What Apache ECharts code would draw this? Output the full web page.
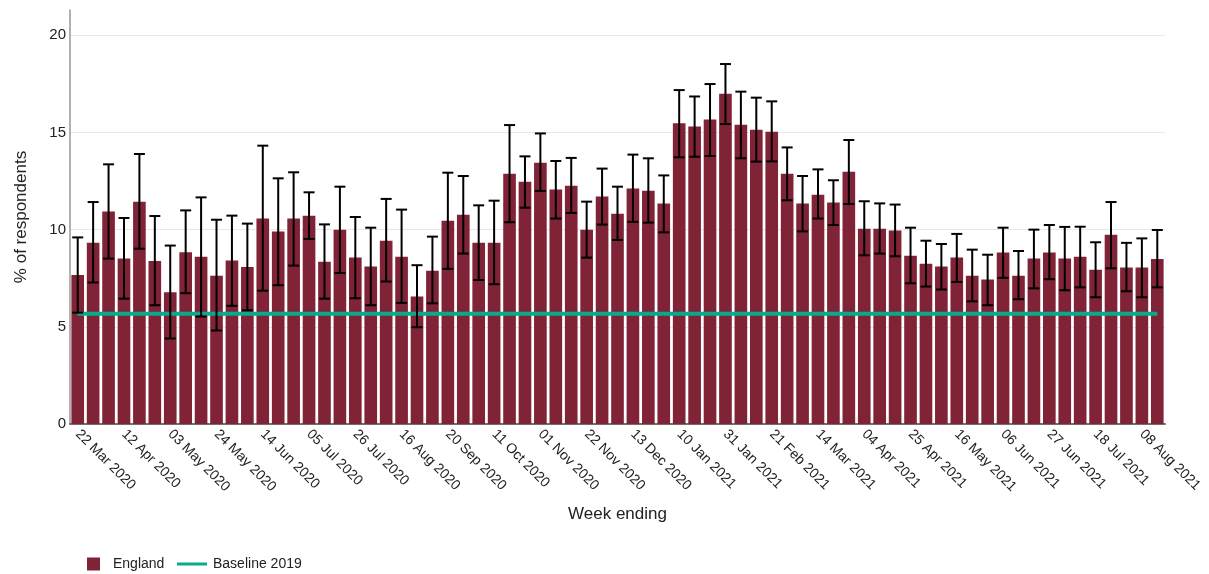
<!DOCTYPE html>
<html>
<head>
<meta charset="utf-8">
<script src="https://cdn.jsdelivr.net/npm/echarts@6/dist/echarts.min.js"></script>
<style>html,body{margin:0;padding:0;background:#fff;}#c{width:1209px;height:574px;}</style>
</head>
<body>
<div id="c"></div>
<script>
const categories = [
  '22 Mar 2020','29 Mar 2020','05 Apr 2020','12 Apr 2020','19 Apr 2020','26 Apr 2020','03 May 2020','10 May 2020','17 May 2020','24 May 2020',
  '31 May 2020','07 Jun 2020','14 Jun 2020','21 Jun 2020','28 Jun 2020','05 Jul 2020','12 Jul 2020','19 Jul 2020','26 Jul 2020','02 Aug 2020',
  '09 Aug 2020','16 Aug 2020','30 Aug 2020','13 Sep 2020','20 Sep 2020','27 Sep 2020','04 Oct 2020','11 Oct 2020','18 Oct 2020','25 Oct 2020',
  '01 Nov 2020','08 Nov 2020','15 Nov 2020','22 Nov 2020','29 Nov 2020','06 Dec 2020','13 Dec 2020','20 Dec 2020','03 Jan 2021','10 Jan 2021',
  '17 Jan 2021','24 Jan 2021','31 Jan 2021','07 Feb 2021','14 Feb 2021','21 Feb 2021','28 Feb 2021','07 Mar 2021','14 Mar 2021','21 Mar 2021',
  '28 Mar 2021','04 Apr 2021','11 Apr 2021','18 Apr 2021','25 Apr 2021','02 May 2021','09 May 2021','16 May 2021','23 May 2021','30 May 2021',
  '06 Jun 2021','13 Jun 2021','20 Jun 2021','27 Jun 2021','04 Jul 2021','11 Jul 2021','18 Jul 2021','25 Jul 2021','01 Aug 2021','08 Aug 2021',
  '15 Aug 2021'
];
const england = [
  7.67,9.33,10.93,8.51,11.44,8.39,6.78,8.83,8.61,7.63,
  8.41,8.08,10.57,9.90,10.57,10.72,8.35,10.0,8.56,8.10,
  9.43,8.61,6.56,7.89,10.46,10.77,9.33,9.33,12.88,12.47,
  13.44,12.06,12.26,10.0,11.70,10.82,12.11,12.0,11.34,15.47,
  15.30,15.66,16.99,15.40,15.14,15.04,12.88,11.34,11.80,11.39,
  12.98,10.05,10.05,9.95,8.66,8.25,8.10,8.56,7.63,7.43,
  8.82,7.63,8.51,8.82,8.51,8.61,7.94,9.74,8.05,8.05,8.49
];
const lowerCI = [
  5.73,7.28,8.51,6.45,9.02,6.11,4.40,6.73,5.53,4.81,
  6.08,5.85,6.86,7.14,8.15,9.52,6.45,7.77,6.47,6.11,
  7.33,6.23,4.98,6.21,7.98,8.77,7.41,7.19,10.38,11.13,
  11.99,10.57,10.86,8.56,10.26,9.47,10.40,10.36,9.86,13.72,
  13.75,13.79,15.43,13.67,13.50,13.51,11.51,9.91,10.57,10.24,
  11.32,8.68,8.77,8.63,7.24,7.07,6.92,7.31,6.31,6.11,
  7.52,6.42,6.98,7.45,6.88,7.03,6.52,8.01,6.83,6.52,7.03
];
const upperCI = [
  9.60,11.42,13.36,10.60,13.89,10.70,9.18,10.99,11.66,10.51,
  10.72,10.31,14.32,12.64,12.95,11.92,10.27,12.21,10.65,10.10,
  11.58,11.03,8.17,9.64,12.93,12.76,11.25,11.49,15.38,13.77,
  14.95,13.53,13.69,11.44,13.14,12.21,13.86,13.67,12.79,17.18,
  16.85,17.49,18.52,17.10,16.79,16.60,14.23,12.76,13.10,12.54,
  14.61,11.46,11.35,11.29,10.10,9.43,9.26,9.78,8.97,8.71,
  10.10,8.90,10.0,10.24,10.14,10.15,9.35,11.42,9.32,9.55,9.98
];
const baseline2019 = 5.67;
const yTicks = [0, 5, 10, 15, 20];

const FONT = '"Liberation Sans", Arial, sans-serif';
const chart = echarts.init(document.getElementById('c'), null, {renderer: 'canvas'});
const baselineData = categories.map(() => baseline2019);
const errData = categories.map((c, i) => [i, lowerCI[i], upperCI[i]]);

chart.setOption({
  animation: false,
  textStyle: {fontFamily: FONT},
  grid: {left: 70, right: 44, top: 10, bottom: 150, containLabel: false},
  legend: [
    {
      data: [{name: 'England', icon: 'rect'}],
      left: 87, top: 557, padding: 0,
      itemWidth: 13, itemHeight: 13,
      textStyle: {fontFamily: FONT, fontSize: 14, color: '#222', padding: [0, 0, 0, 8]}
    },
    {
      data: [{name: 'Baseline 2019', icon: 'rect'}],
      left: 177, top: 557, padding: 0,
      itemWidth: 30, itemHeight: 3,
      textStyle: {fontFamily: FONT, fontSize: 14, color: '#222', padding: [0, 0, 0, 1]}
    }
  ],
  xAxis: {
    type: 'category',
    data: categories,
    name: 'Week ending',
    nameLocation: 'middle',
    nameGap: 82,
    nameTextStyle: {fontFamily: FONT, fontSize: 17, color: '#222'},
    axisLine: {lineStyle: {color: '#707070', width: 2}},
    axisTick: {show: false},
    axisLabel: {
      interval: 2, rotate: -45, margin: 8,
      fontFamily: FONT, fontSize: 14, color: '#222'
    }
  },
  yAxis: {
    type: 'value',
    min: 0, max: 21.3, interval: 5,
    name: '% of respondents',
    nameLocation: 'middle',
    nameGap: 40,
    nameTextStyle: {fontFamily: FONT, fontSize: 17, color: '#222'},
    axisLine: {show: true, lineStyle: {color: '#999', width: 1.5}},
    axisTick: {show: false},
    axisLabel: {
      fontFamily: FONT, fontSize: 15, color: '#222', margin: 4,
      showMaxLabel: false,
      formatter: v => (yTicks.indexOf(v) >= 0 ? String(v) : '')
    },
    splitLine: {show: true, showMaxLine: false, lineStyle: {color: '#e8e8e8', width: 1}}
  },
  series: [
    {
      name: 'England',
      type: 'bar',
      data: england,
      barWidth: '82%',
      itemStyle: {color: '#812336'},
      z: 2
    },
    {
      name: 'Baseline 2019',
      type: 'line',
      data: baselineData,
      symbol: 'none',
      lineStyle: {color: '#0aa98c', width: 4},
      itemStyle: {color: '#0aa98c'},
      z: 3
    },
    {
      name: 'CI',
      type: 'custom',
      data: errData,
      encode: {x: 0, y: [1, 2]},
      z: 4,
      renderItem: function (params, api) {
        const i = api.value(0);
        const lo = api.coord([i, api.value(1)]);
        const hi = api.coord([i, api.value(2)]);
        const hw = 5.5;
        const style = {stroke: '#000', lineWidth: 2};
        return {
          type: 'group',
          children: [
            {type: 'line', shape: {x1: hi[0], y1: hi[1], x2: lo[0], y2: lo[1]}, style: style},
            {type: 'line', shape: {x1: hi[0] - hw, y1: hi[1], x2: hi[0] + hw, y2: hi[1]}, style: style},
            {type: 'line', shape: {x1: lo[0] - hw, y1: lo[1], x2: lo[0] + hw, y2: lo[1]}, style: style}
          ]
        };
      }
    }
  ]
});
</script>
</body>
</html>
